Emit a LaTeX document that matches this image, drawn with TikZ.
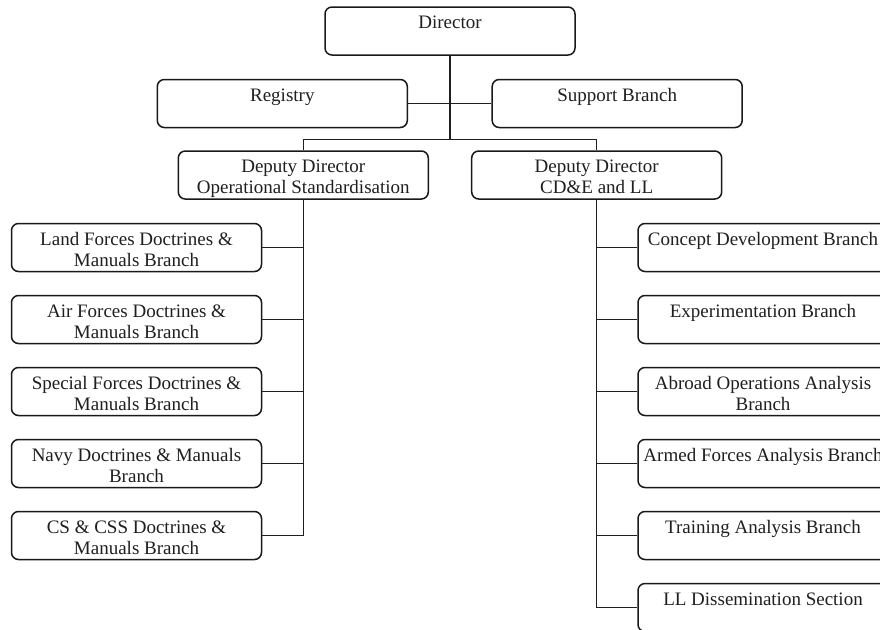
\documentclass[tikz,border=0pt]{standalone}
\usepackage{fontspec}
\setmainfont{Liberation Serif}
\begin{document}
\begin{tikzpicture}[x=1pt,y=-1pt,
  orgbox/.style={draw=black!90, line width=1.5pt, rounded corners=7pt,
    minimum width=250pt, minimum height=48pt, inner sep=0pt},
  boxlabel/.style={anchor=north, inner sep=0pt, align=center, text=black!88,
    font=\fontsize{19}{21}\selectfont},
  link/.style={draw=black!88, line width=1.3pt}]
\useasboundingbox (0,0) rectangle (880,629);
\fill[white] (0,0) rectangle (880,629);
\clip (0,0) rectangle (880,629);

% box with its text set from the top edge
\newcommand\orgunit[4]{%
  \node[orgbox] (#1) at (#2) {};
  \node[boxlabel] (#1-t) at ([yshift=-7.5pt]#1.north) {#4};}

% top level
\orgunit{dir}{450,31}{}{\strut Director}
\orgunit{reg}{282.3,103.5}{}{\strut Registry}
\orgunit{sup}{617.2,103.5}{}{\strut Support Branch}
\orgunit{os}{303.3,175}{}{\strut Deputy Director\\\strut Operational Standardisation}
\orgunit{cd}{596.7,175}{}{\strut Deputy Director\\\strut CD\&E and LL}

% operational standardisation branches
\orgunit{l1}{136.5,247.5}{}{\strut Land Forces Doctrines \&\\\strut Manuals Branch}
\orgunit{l2}{136.5,319.5}{}{\strut Air Forces Doctrines \&\\\strut Manuals Branch}
\orgunit{l3}{136.5,391.5}{}{\strut Special Forces Doctrines \&\\\strut Manuals Branch}
\orgunit{l4}{136.5,463.5}{}{\strut Navy Doctrines \& Manuals\\\strut Branch}
\orgunit{l5}{136.5,535.5}{}{\strut CS \& CSS Doctrines \&\\\strut Manuals Branch}

% CD&E and LL branches
\orgunit{r1}{763,247.5}{}{\strut Concept Development Branch}
\orgunit{r2}{763,319.5}{}{\strut Experimentation Branch}
\orgunit{r3}{763,391.5}{}{\strut Abroad Operations Analysis\\\strut Branch}
\orgunit{r4}{763,463.5}{}{\strut Armed Forces Analysis Branch}
\orgunit{r5}{763,535.5}{}{\strut Training Analysis Branch}
\orgunit{r6}{763,607.5}{}{\strut LL Dissemination Section}

% connectors
\coordinate (hub) at (450,139.3);
\path[link] (dir.south) -- (hub);
\path[link] (reg.east) -- (sup.west);
\path[link] (os.north) |- (hub) -| (cd.north);

\path[link] (os.south) |- (l5.east);
\foreach \i in {1,2,3,4} {\path[link] (l\i.east) -- (l\i.east -| os.south);}

\path[link] (cd.south) |- (r6.west);
\foreach \i in {1,2,3,4,5} {\path[link] (r\i.west) -- (r\i.west -| cd.south);}
\end{tikzpicture}
\end{document}
